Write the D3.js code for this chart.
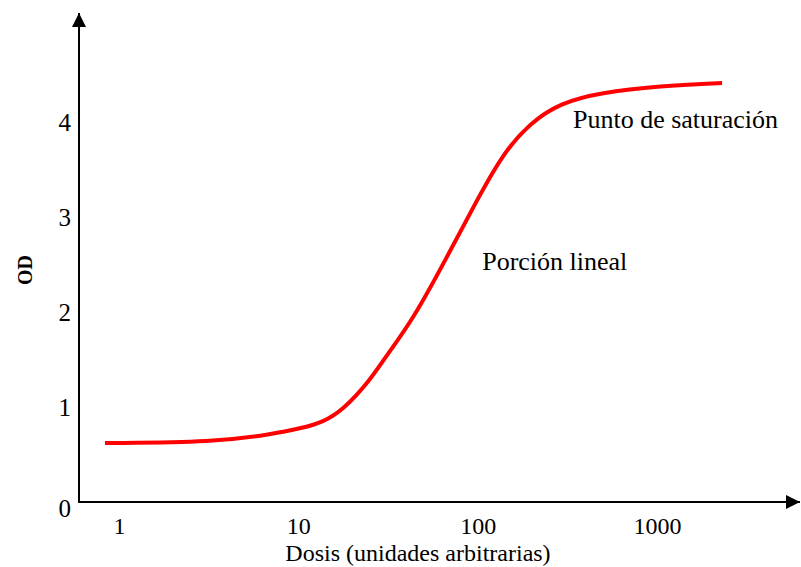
<!DOCTYPE html>
<html>
<head>
<meta charset="utf-8">
<script src="https://cdn.jsdelivr.net/npm/d3@7"></script>
<style>
  body { margin: 0; background: #fff; }
  text { font-family: "Liberation Serif", "Times New Roman", serif; fill: #000; }
</style>
</head>
<body>
<div id="chart"></div>
<script>
// dose-response curve
const dose = [0.835, 3.43, 6.95, 10.6, 13.7, 17.8, 25.1, 30.4, 43.6, 67.5, 99.2, 138.6, 196, 288, 482, 1041, 2307];
const od = [0.62, 0.63, 0.71, 0.78, 0.84, 0.97, 1.28, 1.52, 1.92, 2.58, 3.18, 3.67, 3.99, 4.2, 4.31, 4.38, 4.41];

const xTicks = [1, 10, 100, 1000];
const yTicks = [0, 1, 2, 3, 4];

const notes = [
  { text: "Punto de saturación", dose: 340, od: 3.94 },
  { text: "Porción lineal", dose: 106, od: 2.44 }
];

const width = 801, height = 567;
const origin = { x: 79, y: 502 };

const svg = d3.select("#chart")
  .append("svg")
  .attr("width", width)
  .attr("height", height);

const x = d3.scaleLog().domain([1, 1000]).range([119, 657]);
const y = d3.scaleLinear().domain([0, 4]).range([origin.y, 122]);

// arrow heads
const defs = svg.append("defs");
defs.append("marker")
  .attr("id", "arrow")
  .attr("viewBox", "0 0 10 10")
  .attr("refX", 10)
  .attr("refY", 5)
  .attr("markerWidth", 7)
  .attr("markerHeight", 7)
  .attr("markerUnits", "strokeWidth")
  .attr("orient", "auto")
  .append("path")
  .attr("d", "M0,0 L10,5 L0,10 Z")
  .attr("fill", "#000");

// axis lines
svg.append("line")
  .attr("x1", origin.x).attr("y1", origin.y)
  .attr("x2", origin.x).attr("y2", 13)
  .attr("stroke", "#000").attr("stroke-width", 2)
  .attr("marker-end", "url(#arrow)");
svg.append("line")
  .attr("x1", origin.x - 1).attr("y1", origin.y)
  .attr("x2", 800).attr("y2", origin.y)
  .attr("stroke", "#000").attr("stroke-width", 2)
  .attr("marker-end", "url(#arrow)");

// tick labels through d3 axes (no tick marks, no domain)
const xAxis = svg.append("g")
  .attr("transform", `translate(0,${origin.y})`)
  .call(d3.axisBottom(x).tickValues(xTicks).tickFormat(d3.format("d")).tickSize(0).tickPadding(0));
xAxis.select(".domain").remove();
xAxis.selectAll("text")
  .attr("y", 32)
  .attr("dy", 0)
  .attr("font-size", 24)
  .attr("font-family", "Liberation Serif, Times New Roman, serif");

const yAxis = svg.append("g")
  .attr("transform", `translate(71,0)`)
  .call(d3.axisLeft(y).tickValues(yTicks).tickFormat(d3.format("d")).tickSize(0).tickPadding(0));
yAxis.select(".domain").remove();
yAxis.selectAll("text")
  .attr("font-size", 25)
  .attr("font-family", "Liberation Serif, Times New Roman, serif")
  .attr("dy", (d) => (d === 0 ? "0.58em" : "0.35em"));

// axis titles
svg.append("text")
  .attr("x", 418)
  .attr("y", 561)
  .attr("text-anchor", "middle")
  .attr("font-size", 24)
  .text("Dosis (unidades arbitrarias)");

svg.append("text")
  .attr("transform", "translate(32,270) rotate(-90)")
  .attr("text-anchor", "middle")
  .attr("font-size", 20)
  .attr("font-weight", "bold")
  .text("OD");

// curve
const line = d3.line()
  .x((d, i) => x(dose[i]))
  .y((d) => y(d))
  .curve(d3.curveBasis);

svg.append("path")
  .datum(od)
  .attr("d", line)
  .attr("fill", "none")
  .attr("stroke", "#ff0000")
  .attr("stroke-width", 4)
  .attr("stroke-linecap", "butt");

// annotations
svg.selectAll(".note")
  .data(notes)
  .join("text")
  .attr("class", "note")
  .attr("x", (d) => x(d.dose))
  .attr("y", (d) => y(d.od))
  .attr("font-size", 26)
  .text((d) => d.text);
</script>
</body>
</html>
